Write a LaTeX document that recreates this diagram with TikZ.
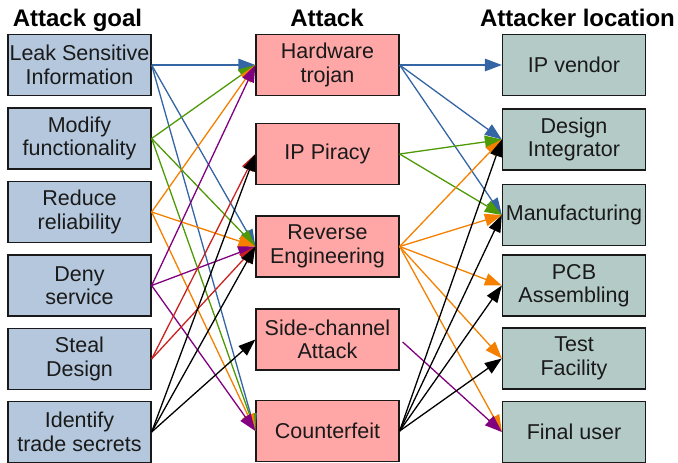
\documentclass[tikz,border=0pt]{standalone}
\usepackage{fontspec}
\setmainfont{Liberation Sans}
\usetikzlibrary{arrows.meta}
\definecolor{goalfill}{RGB}{180,199,220}
\definecolor{attackfill}{RGB}{255,166,166}
\definecolor{locfill}{RGB}{179,202,199}
\definecolor{cblue}{RGB}{52,101,164}
\definecolor{cgreen}{RGB}{78,154,6}
\definecolor{corange}{RGB}{245,128,0}
\definecolor{cpurple}{RGB}{128,0,128}
\definecolor{cred}{RGB}{201,33,30}
\definecolor{textdark}{RGB}{26,26,26}
\tikzset{
  box/.style={draw=black!90, line width=1.3pt, minimum width=143pt, minimum height=61pt,
    inner sep=0pt, align=center, text=textdark, font=\fontsize{21.5}{23.5}\selectfont,
    execute at begin node={\vspace*{3pt}}},
  goal/.style={box, fill=goalfill},
  attack/.style={box, fill=attackfill},
  loc/.style={box, fill=locfill},
  header/.style={anchor=base, font=\fontsize{24}{26}\selectfont\bfseries},
  link/.style={line width=1.3pt, -{Triangle[length=17pt,width=12.5pt]}},
}
\begin{document}
\begin{tikzpicture}[x=1pt,y=-1pt]
\useasboundingbox (0,0) rectangle (678,463);

% column headers
\node[header] (h1) at (77.5,26) {Attack goal};
\node[header] (h2) at (327,26) {Attack};
\node[header] (h3) at (577.5,26) {Attacker location};

% attack goals
\node[goal] (g1) at (79.5,65) {Leak Sensitive\\Information};
\node[goal] (g2) at (79.5,138.5) {Modify\\functionality};
\node[goal] (g3) at (79.5,212) {Reduce\\reliability};
\node[goal] (g4) at (79.5,285.5) {Deny\\service};
\node[goal] (g5) at (79.5,359) {Steal\\Design};
\node[goal] (g6) at (79.5,432) {Identify\\trade secrets};

% attacks
\node[attack] (a1) at (327.5,65) {Hardware\\trojan};
\node[attack] (a2) at (327.5,154) {IP Piracy};
\node[attack] (a3) at (327.5,246.5) {Reverse\\Engineering};
\node[attack] (a4) at (327.5,339.5) {Side-channel\\Attack};
\node[attack] (a5) at (327.5,431) {Counterfeit};

% attacker locations
\node[loc] (l1) at (574,65) {IP vendor};
\node[loc] (l2) at (574,139.5) {Design\\Integrator};
\node[loc] (l3) at (574,215) {Manufacturing};
\node[loc] (l4) at (574,285.5) {PCB\\Assembling};
\node[loc] (l5) at (574,358.5) {Test\\Facility};
\node[loc] (l6) at (574,432) {Final user};

% goal -> attack
\foreach \t in {a1,a3,a5} \draw[link, cblue] (g1.east) -- (\t.west);
\foreach \t in {a1,a3,a5} \draw[link, cgreen] (g2.east) -- (\t.west);
\foreach \t in {a1,a3,a5} \draw[link, corange] (g3.east) -- (\t.west);
\foreach \t in {a1,a3,a5} \draw[link, cpurple] (g4.east) -- (\t.west);
\foreach \t in {a2,a3} \draw[link, cred] (g5.east) -- (\t.west);
\foreach \t in {a2,a3,a4} \draw[link, black] (g6.east) -- (\t.west);

% attack -> location
\foreach \t in {l1,l2,l3} \draw[link, cblue] (a1.east) -- (\t.west);
\foreach \t in {l2,l3} \draw[link, cgreen] (a2.east) -- (\t.west);
\foreach \t in {l2,l3,l4,l5,l6} \draw[link, corange] (a3.east) -- (\t.west);
\draw[link, cpurple] ([shift={(3pt,-2.5pt)}]a4.east) -- (l6.west);
\foreach \t in {l2,l3,l4,l5} \draw[link, black] (a5.east) -- (\t.west);
\end{tikzpicture}
\end{document}
